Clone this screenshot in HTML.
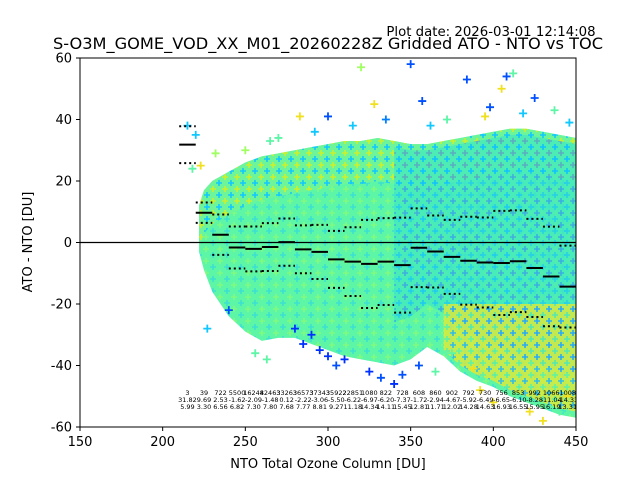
<!DOCTYPE html>
<html><head><meta charset="utf-8"><style>
body{margin:0;background:#fff;}
svg{display:block;font-family:"DejaVu Sans","Liberation Sans",sans-serif;}
</style></head><body>
<svg id="chart" width="640" height="480" viewBox="0 0 640 480">
<defs>
<pattern id="pGreen" width="14" height="12" patternUnits="userSpaceOnUse">
<rect width="14" height="12" fill="#5cf6a6"/>
<path d="M3 0v6M0 3h6" stroke="#3de0d0" stroke-width="1.6"/>
<path d="M10 6v6M7 9h6" stroke="#80fa80" stroke-width="1.6"/>
</pattern>
<pattern id="pTop" width="12" height="12" patternUnits="userSpaceOnUse">
<rect width="12" height="12" fill="#6ef59a"/>
<path d="M3 0v6M0 3h6" stroke="#10c8ff" stroke-width="1.6"/>
<path d="M9 6v6M6 9h6" stroke="#c8f030" stroke-width="1.6"/>
</pattern>
<pattern id="pRight" width="12" height="12" patternUnits="userSpaceOnUse">
<rect width="12" height="12" fill="#40e8c0"/>
<path d="M3 0v6M0 3h6" stroke="#10c0ff" stroke-width="1.6"/>
<path d="M9 6v6M6 9h6" stroke="#2890ff" stroke-width="1.6"/>
</pattern>
<pattern id="pYellow" width="12" height="12" patternUnits="userSpaceOnUse">
<rect width="12" height="12" fill="#e8e830"/>
<path d="M3 0v6M0 3h6" stroke="#60f0a0" stroke-width="1.6"/>
<path d="M9 6v6M6 9h6" stroke="#20a8ff" stroke-width="1.6"/>
</pattern>
<clipPath id="plotClip"><rect x="80" y="58" width="496" height="369"/></clipPath>
</defs>
<text x="491" y="36" font-size="13.3" text-anchor="middle">Plot date: 2026-03-01 12:14:08</text>
<text x="328" y="49" font-size="16.2" text-anchor="middle">S-O3M_GOME_VOD_XX_M01_20260228Z Gridded ATO - NTO vs TOC</text>
<g id="plot" clip-path="url(#plotClip)"></g>
<rect x="80" y="58" width="496" height="369" fill="none" stroke="#000" stroke-width="1"/>
<g id="axes"></g>
<text x="328" y="468" font-size="13" text-anchor="middle">NTO Total Ozone Column [DU]</text>
<text x="32" y="242" font-size="13" text-anchor="middle" transform="rotate(-90 32 242)">ATO - NTO [DU]</text>
</svg>
<script>
const binStarts=[210,220,230,240,250,260,270,280,290,300,310,320,330,340,350,360,370,380,390,400,410,420,430,440];
const binCounts=['3','39','722','5500','16248','42463','33263','36573','37343','35922','22851','1080','822','728','608','860','902','792','730','756','853','992','1066','1008'];
const binMeans=[31.82,9.69,2.53,-1.62,-2.09,-1.48,0.12,-2.22,-3.06,-5.50,-6.22,-6.97,-6.20,-7.37,-1.72,-2.94,-4.67,-5.92,-6.49,-6.65,-6.10,-8.28,-11.04,-14.33];
const binStds=[5.99,3.30,6.56,6.82,7.30,7.80,7.68,7.77,8.81,9.27,11.18,14.34,14.11,15.45,12.81,11.71,12.02,14.28,14.63,16.93,16.55,15.95,16.19,13.31];
const envX=[222,225,230,240,250,260,270,280,290,300,310,320,330,340,350,360,370,380,390,400,410,420,430,440,450];
const envTop=[12,17,20,23,26,28,29,30,31,32,33,33,34,33,32,32,33,34,35,36,37,37,36,35,34];
const envBot=[-3,-9,-16,-24,-29,-32,-31,-31,-33,-35,-37,-38,-39,-40,-38,-34,-37,-42,-45,-47,-50,-52,-54,-56,-57];
const xTicks=[150,200,250,300,350,400,450];
const yTicks=[-60,-40,-20,0,20,40,60];
const outX=[218,220,223,265,283,300,320,328,350,357,384,398,408,412,405,425,437,263,285,300,310,325,340,345,355,375,388,400,430,440,445,227,240,280,290,295,232,215,250,270,292,315,335,362,372,395,418,446,256,305,332,365,392,422];
const outY=[24,35,25,33,41,41,57,45,58,46,53,44,54,55,50,47,43,-38,-33,-37,-38,-42,-46,-43,-40,-36,-41,-52,-58,-55,-50,-28,-22,-28,-30,-35,29,38,30,34,36,38,40,38,40,41,42,39,-36,-40,-44,-42,-48,-55];
const outC=['#5cf6a6','#10c8ff','#f0e020','#5cf6a6','#f0e020','#0050ff','#9fff60','#f0e020','#0050ff','#0050ff','#0050ff','#0050ff','#0050ff','#5cf6a6','#f0e020','#0050ff','#5cf6a6','#5cf6a6','#0030ff','#0030ff','#0030ff','#0030ff','#0030ff','#0050ff','#0050ff','#5cf6a6','#f0e020','#f0e020','#f0e020','#5cf6a6','#f0e020','#10c8ff','#0050ff','#0030ff','#0030ff','#0030ff','#9fff60','#10c8ff','#9fff60','#5cf6a6','#10c8ff','#10c8ff','#0080ff','#10c8ff','#5cf6a6','#f0e020','#10c8ff','#10c8ff','#5cf6a6','#0050ff','#0050ff','#5cf6a6','#f0e020','#f0e020'];
const NS='http://www.w3.org/2000/svg';
const sx=v=>80+(v-150)*496/300;
const sy=v=>58+(60-v)*369/120;
const plot=document.getElementById('plot');
const axes=document.getElementById('axes');
function mk(tag,attrs,parent){const e=document.createElementNS(NS,tag);for(const k in attrs)e.setAttribute(k,attrs[k]);parent.appendChild(e);return e;}
function band(topFn,botFn,x0,x1){
  const pts=[];const bot=[];
  for(let i=0;i<envX.length;i++){const x=envX[i];if(x<x0||x>x1)continue;pts.push(sx(x)+','+sy(topFn(i)));bot.unshift(sx(x)+','+sy(botFn(i)));}
  return pts.concat(bot).join(' ');
}
let p=mk('polygon',{points:band(i=>envTop[i],i=>envBot[i],0,999),fill:'url(#pGreen)'},plot);


p=mk('polygon',{points:band(i=>envTop[i],i=>envTop[i]-14,0,999),fill:'url(#pTop)'},plot);


p=mk('polygon',{points:band(i=>envTop[i]-2,i=>envBot[i]+14,340,450),fill:'url(#pRight)',opacity:'0.7'},plot);


p=mk('polygon',{points:band(i=>-20,i=>envBot[i]+2,370,450),fill:'url(#pYellow)',opacity:'0.75'},plot);


for(let i=0;i<outX.length;i++){
  const x=sx(outX[i]),y=sy(outY[i]);
  const c=mk('path',{d:`M${x-4} ${y}h8M${x} ${y-4}v8`,stroke:outC[i],'stroke-width':'1.8'},plot);
  
  
}
let z=mk('line',{x1:80,x2:576,y1:sy(0),y2:sy(0),stroke:'#000','stroke-width':'1.2'},plot);


for(let i=0;i<binStarts.length;i++){
  const x0=sx(binStarts[i]),x1=sx(binStarts[i]+10);
  const m=mk('line',{x1:x0,x2:x1,y1:sy(binMeans[i]),y2:sy(binMeans[i]),stroke:'#000','stroke-width':'2'},plot);
  
  
  [1,-1].forEach(s=>{
    const v=binMeans[i]+s*binStds[i];
    const d=mk('line',{x1:x0,x2:x1,y1:sy(v),y2:sy(v),stroke:'#000','stroke-width':'2','stroke-dasharray':'2,3'},plot);
    
    
  });
  const cx=sx(binStarts[i]+5);
  [[binCounts[i],395],[binMeans[i].toFixed(2),402],[binStds[i].toFixed(2),409]].forEach(r=>{
    const t=mk('text',{x:cx,y:r[1],'font-size':'6.5','text-anchor':'middle'},plot);
    t.textContent=r[0];
    
    
  });
}
xTicks.forEach(v=>{
  const x=sx(v);
  const l=mk('line',{x1:x,x2:x,y1:427,y2:431,stroke:'#000'},axes);
  
  
  const t=mk('text',{x:x,y:446,'font-size':'13','text-anchor':'middle'},axes);
  t.textContent=v;
  
  
});
yTicks.forEach(v=>{
  const y=sy(v);
  const l=mk('line',{x1:76,x2:80,y1:y,y2:y,stroke:'#000'},axes);
  
  
  const t=mk('text',{x:72,y:y+4.5,'font-size':'13','text-anchor':'end'},axes);
  t.textContent=v;
  
  
});
</script>
</body></html>
